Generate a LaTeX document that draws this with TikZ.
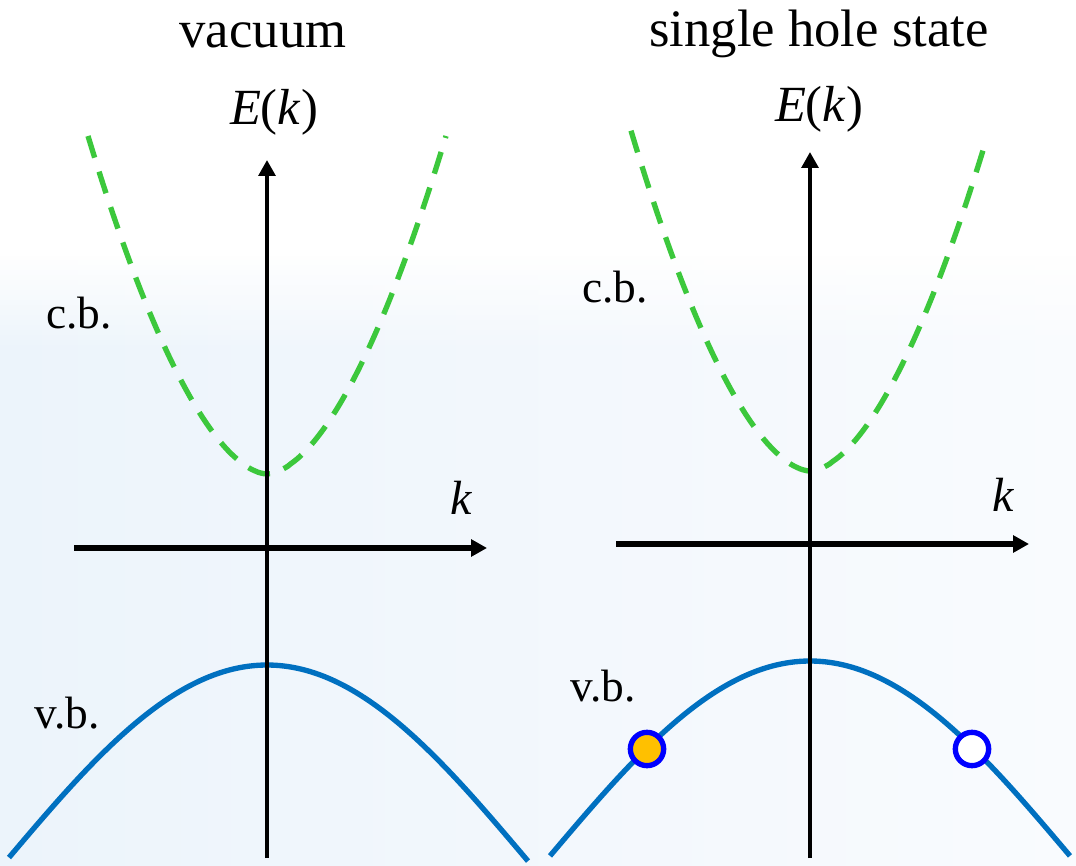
\documentclass[tikz,border=0pt]{standalone}
\usepackage{fontspec}
\setmainfont{Liberation Serif}
\usetikzlibrary{arrows.meta}
\definecolor{vbblue}{HTML}{0070C0}
\definecolor{cbgreen}{HTML}{3CC83C}
\definecolor{holeblue}{HTML}{0000FF}
\definecolor{elecorange}{HTML}{FFC000}
\definecolor{bgA}{HTML}{ECF4FB}
\definecolor{bgB}{HTML}{F9FBFE}
\begin{document}
\begin{tikzpicture}[x=0.75pt,y=-0.75pt,
  titlelbl/.style={anchor=base,inner sep=0pt,font=\fontsize{39.5}{42}\selectfont},
  ylbl/.style={anchor=base,inner sep=0pt,font=\fontsize{38}{40}\selectfont},
  klbl/.style={anchor=base,inner sep=0pt,font=\fontsize{36}{38}\selectfont\itshape},
  bandlbl/.style={anchor=base,inner sep=0pt,font=\fontsize{34}{36}\selectfont},
  vaxis/.style={draw=black,line width=3.4pt,-{Triangle[length=12pt,width=12.5pt]}},
  haxis/.style={draw=black,line width=3.9pt,-{Triangle[length=12pt,width=12.5pt]}},
  cbcurve/.style={draw=cbgreen,line width=4pt,dash pattern=on 17pt off 11pt},
  vbcurve/.style={draw=vbblue,line width=4pt},
  hole/.style={circle,draw=holeblue,line width=4pt,minimum size=25pt,inner sep=0pt}
]
\useasboundingbox (0,0) rectangle (1076,866);
% faint background wash
\fill[white] (0,0) rectangle (1076,866);
\shade[left color=bgA,right color=bgB] (0,250) rectangle (1076,866);
\fill[white] (0,240) rectangle (1076,256);
\foreach \i in {1,...,19}{
  \fill[white,opacity={1-\i/20}] (0,{250+5*\i}) rectangle (1076,{255.5+5*\i});
}

% ---------- left panel: vacuum ----------
\node[titlelbl] (tvac) at (263,48) {vacuum};
\node[ylbl] (EL) at (274,125) {\textit{E}(\textit{k})};
\node[klbl] (kL) at (461,515) {k};
\node[bandlbl] (cbL) at (79,329) {c.b.};
\node[bandlbl] (vbL) at (67,728) {v.b.};

\draw[cbcurve] plot[domain=-179:179,samples=121,smooth]
  ({267+\x},{474-338*pow(abs(\x)/179+0.00001,1.75)});
\draw[vbcurve] plot[domain=-258:261,samples=120,smooth]
  ({267+\x},{665+197*(1-cos(0.3438*\x))});

\coordinate (Lvb) at (267,858);
\coordinate (Lvt) at (267,160);
\coordinate (Lhl) at (74,548);
\coordinate (Lhr) at (487,548);
\draw[vaxis] (Lvb) -- (Lvt);
\draw[haxis] (Lhl) -- (Lhr);

% ---------- right panel: single hole state ----------
\node[titlelbl] (thole) at (819,47) {single hole state};
\node[ylbl] (ER) at (819,122) {\textit{E}(\textit{k})};
\node[klbl] (kR) at (1003,512) {k};
\node[bandlbl] (cbR) at (615,303) {c.b.};
\node[bandlbl] (vbR) at (603,701) {v.b.};

\draw[cbcurve] plot[domain=-179:177,samples=121,smooth]
  ({810+\x},{471-337*pow(abs(\x)/178+0.00001,1.75)});
\draw[vbcurve] plot[domain=-260:260,samples=120,smooth]
  ({810+\x},{661+197*(1-cos(0.3438*\x))});

\coordinate (Rvb) at (810,858);
\coordinate (Rvt) at (810,152);
\coordinate (Rhl) at (616,544);
\coordinate (Rhr) at (1029,544);
\draw[vaxis] (Rvb) -- (Rvt);
\draw[haxis] (Rhl) -- (Rhr);

\node[hole,fill=elecorange] (elec) at (647,749) {};
\node[hole,fill=white] (hol) at (972,749) {};
\end{tikzpicture}
\end{document}
